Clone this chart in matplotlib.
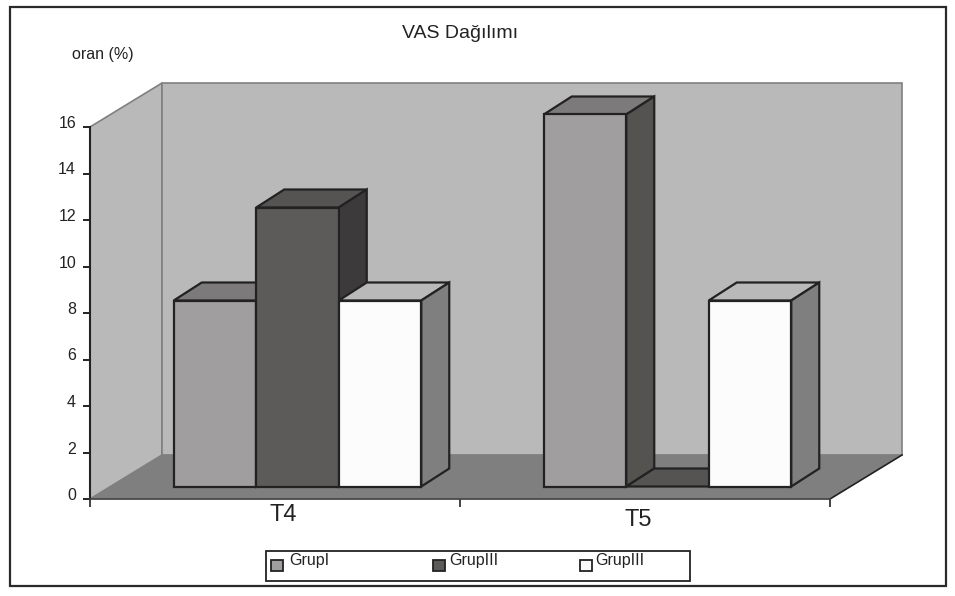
import matplotlib
matplotlib.use("Agg")
import matplotlib.pyplot as plt
from matplotlib.patches import Polygon, Rectangle
from matplotlib.transforms import Affine2D, ScaledTranslation

W, H = 955, 596

categories = ["T4", "T5"]
series_names = ["GrupI", "GrupIII", "GrupIII"]
grup1 = [8, 16]
grup2 = [12, 0]
grup3 = [8, 8]
y_ticks = [0, 2, 4, 6, 8, 10, 12, 14, 16]

front_colors = ["#a09e9f", "#5c5b5a", "#fcfcfc"]
top_colors = ["#7c7a7b", "#555453", "#b9b9b9"]
side_colors = ["#555350", "#3c3a3a", "#7f7f7f"]
edge = "#222222"

plt.rcParams["font.family"] = ["Liberation Sans", "DejaVu Sans"]

fig = plt.figure(figsize=(W / 100, H / 100), dpi=100)
px = Affine2D().scale(1 / W, -1 / H).translate(0, 1) + fig.transFigure

# front plane of the fake 3d box
ax = fig.add_axes([90 / W, 1 - 499 / H, 740 / W, 372 / H])
ax.set_xlim(0, 2)
ax.set_ylim(0, 16)
ax.patch.set_visible(False)

sx = 740 / 2  # px per category
sy = 372 / 16  # px per value unit
wall_dx, wall_dy = 72 / sx, 44 / sy
bar_dx, bar_dy = 28 / sx, 18 / sy
base_dx, base_dy = 22.5 / sx, 12.5 / sy
bar_w = 82.5 / sx


def poly(points, color, ec=None, lw=1.6, z=1):
    ax.add_patch(Polygon(points, closed=True, fc=color, ec=ec or color, lw=lw,
                         joinstyle="miter", clip_on=False, zorder=z))


# walls and floor
poly([(0, 0), (wall_dx, wall_dy), (wall_dx, 16 + wall_dy), (0, 16)], "#b9b9b9", "#808080", 1.2)
poly([(wall_dx, wall_dy), (2 + wall_dx, wall_dy), (2 + wall_dx, 16 + wall_dy), (wall_dx, 16 + wall_dy)],
     "#b9b9b9", "#808080", 1.2)
poly([(0, 0), (2, 0), (2 + wall_dx, wall_dy), (wall_dx, wall_dy)], "#7f7f7f", "#7f7f7f", 0.5)
ax.plot([2, 2 + wall_dx], [0, wall_dy], color=edge, lw=1.2, clip_on=False, zorder=1.1)


def bar3d(x, val, i, z):
    y0 = base_dy
    y1 = base_dy + val
    poly([(x, y1), (x + bar_w, y1), (x + bar_w + bar_dx, y1 + bar_dy), (x + bar_dx, y1 + bar_dy)],
         top_colors[i], edge, z=z)
    poly([(x + bar_w, y0), (x + bar_w + bar_dx, y0 + bar_dy), (x + bar_w + bar_dx, y1 + bar_dy), (x + bar_w, y1)],
         side_colors[i], edge, z=z)
    if val > 0:
        poly([(x, y0), (x + bar_w, y0), (x + bar_w, y1), (x, y1)], front_colors[i], edge, z=z)


values = [grup1, grup2, grup3]
z = 2
for c in range(len(categories)):
    start = c + 0.5 + base_dx - 1.5 * bar_w
    for i in range(len(values)):
        bar3d(start + i * bar_w, values[i][c], i, z)
        z += 1

# axes
for name in ["top", "right"]:
    ax.spines[name].set_visible(False)
ax.spines["left"].set_linewidth(1.5)
ax.spines["left"].set_color("#222222")
ax.spines["bottom"].set_linewidth(1.2)
ax.spines["bottom"].set_color("#444444")
ax.spines["left"].set_zorder(50)
ax.spines["bottom"].set_zorder(50)
ax.set_yticks(y_ticks)
ax.set_xticks([0, 1, 2], labels=[])
ax.tick_params(axis="y", length=5, width=1.4, color="#222222", pad=5, labelsize=11.5, labelcolor="#222222")
ax.tick_params(axis="x", length=6, width=1.2, color="#222222")
up = ScaledTranslation(0, 5 / 100, fig.dpi_scale_trans)
for lab in ax.get_yticklabels():
    lab.set_transform(lab.get_transform() + up)


def px_text(x, y, s, size, ha="center"):
    fig.text(x, y, s, transform=px, fontsize=size, ha=ha, va="center", color="#222222")


px_text(460, 33, "VAS Dağılımı", 14)
px_text(72, 54, "oran (%)", 11.5, ha="left")
px_text(283, 515, categories[0], 17)
px_text(638.5, 520, categories[1], 17)

# outer frame
fig.add_artist(Rectangle((9.5, 7), 936, 579, transform=px, fill=False, ec="#2a2a2a", lw=1.6))

# legend box
fig.add_artist(Rectangle((265.5, 551), 424.5, 30, transform=px, fill=False, ec="#222222", lw=1.3))
swatch_x = [271, 433, 580]
text_x = [289, 449, 595]
for i in range(len(series_names)):
    fig.add_artist(Rectangle((swatch_x[i], 560), 12, 11, transform=px, fc=front_colors[i], ec="#222222", lw=1.3))
    px_text(text_x[i], 560, series_names[i], 11.5, ha="left")

fig.savefig("out.png", dpi=100)
